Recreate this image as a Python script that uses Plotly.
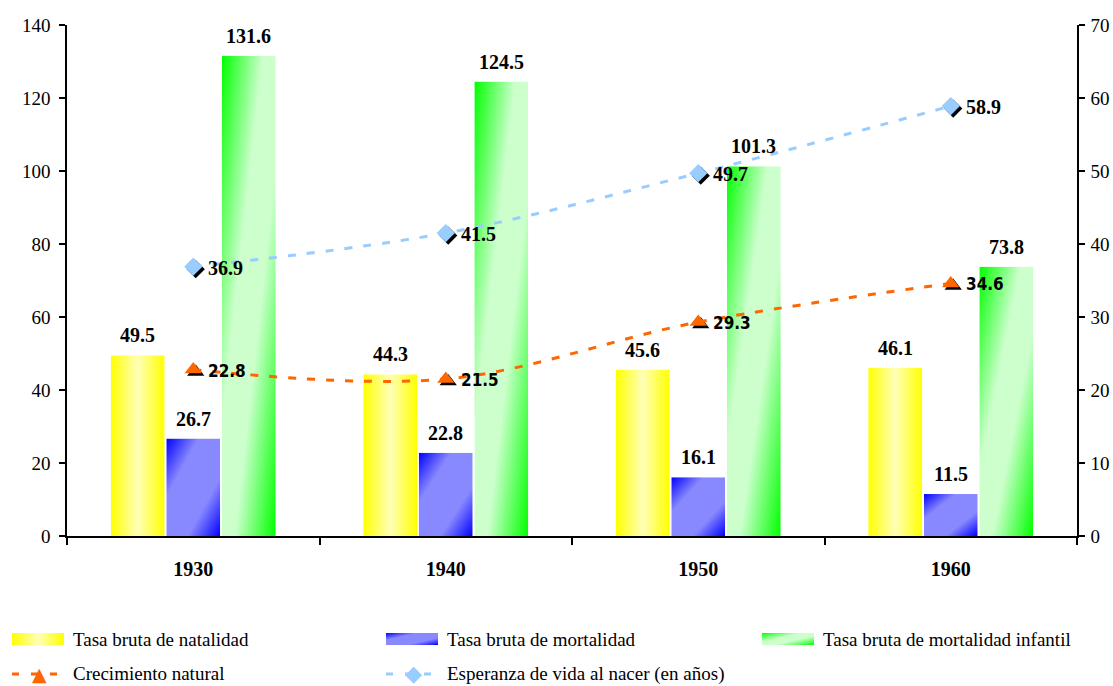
import base64
import plotly.graph_objects as go

# ---- data -------------------------------------------------------------
years = ["1930", "1940", "1950", "1960"]
natalidad = [49.5, 44.3, 45.6, 46.1]
mortalidad = [26.7, 22.8, 16.1, 11.5]
mortalidad_infantil = [131.6, 124.5, 101.3, 73.8]
crecimiento = [22.8, 21.5, 29.3, 34.6]
esperanza = [36.9, 41.5, 49.7, 58.9]

bar_names = ["Tasa bruta de natalidad", "Tasa bruta de mortalidad",
             "Tasa bruta de mortalidad infantil"]
line_names = ["Crecimiento natural", "Esperanza de vida al nacer (en años)"]

left_ticks = [0, 20, 40, 60, 80, 100, 120, 140]
right_ticks = [0, 10, 20, 30, 40, 50, 60, 70]

# ---- styling ----------------------------------------------------------
SERIF = "Liberation Serif, Times New Roman, serif"
NARROW = "Liberation Sans Narrow, Arial Narrow, DejaVu Sans Condensed, sans-serif"
ORANGE = "#FF6600"
SKY = "#99CCFF"

W, H = 1113, 686
ML, MR, MT, MB = 67, 36, 25, 150
PW, PH = W - ML - MR, H - MT - MB

BARGAP, BARGROUPGAP = 0.34, 0.03

# gradient fills for the bars (stops, diagonal?)
GRADIENTS = [
    ([(0, "#FFFF00"), (0.5, "#FFFFB8"), (1, "#FFFF00")], False),
    ([(0, "#0000FF"), (0.3, "#8888FF"), (0.7, "#8888FF"), (1, "#0000FF")], True),
    ([(0, "#00FF00"), (0.38, "#CCFFCC"), (0.62, "#CCFFCC"), (1, "#00FF00")], True),
]


def gradient_uri(stops, diagonal):
    x2, y2 = ("1", "1") if diagonal else ("1", "0")
    st = "".join(f'<stop offset="{o}" stop-color="{c}"/>' for o, c in stops)
    svg = ('<svg xmlns="http://www.w3.org/2000/svg" width="100" height="100" '
           'viewBox="0 0 100 100" preserveAspectRatio="none"><defs>'
           f'<linearGradient id="g" x1="0" y1="0" x2="{x2}" y2="{y2}">{st}'
           '</linearGradient></defs><rect width="100" height="100" fill="url(#g)"/></svg>')
    return "data:image/svg+xml;base64," + base64.b64encode(svg.encode()).decode()


def px_x(p):
    return (p - ML) / PW


def px_y(p):
    return (H - MB - p) / PH


xpos = list(range(len(years)))
series = [natalidad, mortalidad, mortalidad_infantil]

fig = go.Figure()
images = []
annotations = []
shapes = []

# bars: the fill itself comes from gradient images laid under the traces
n = len(series)
group_w = 1 - BARGAP
slot = group_w / n
bar_w = slot * (1 - BARGROUPGAP)
for i, (name, vals) in enumerate(zip(bar_names, series)):
    fig.add_trace(go.Bar(
        x=xpos, y=vals, name=name,
        marker=dict(color="rgba(0,0,0,0)", line=dict(width=0)),
        showlegend=False, hovertemplate=name + ": %{y}<extra></extra>",
    ))
    uri = gradient_uri(*GRADIENTS[i])
    for xc, v in zip(xpos, vals):
        center = xc - group_w / 2 + slot * (i + 0.5)
        images.append(dict(
            source=uri, xref="x", yref="y", x=center - bar_w / 2, y=v,
            sizex=bar_w, sizey=v, xanchor="left", yanchor="top",
            sizing="stretch", layer="below",
        ))
        annotations.append(dict(
            text=f"<b>{v:.1f}</b>", xref="x", yref="y", x=center, y=v,
            xanchor="center", yanchor="bottom", yshift=7, showarrow=False,
            font=dict(family=SERIF, size=20, color="black"),
        ))

# line series on the right axis, with a dark drop shadow under each marker
SHADOW_DX = 2.5 / PW * 4      # ~2.5 px in category units
SHADOW_DY = 2.5 / PH * 70     # ~2.5 px in right-axis units

line_specs = [
    (crecimiento, line_names[0], ORANGE, "triangle-up", 15,
     dict(family=NARROW, size=17, color="black")),
    (esperanza, line_names[1], SKY, "diamond", 14,
     dict(family=SERIF, size=20, color="black")),
]
for vals, name, color, symbol, size, tfont in line_specs:
    fig.add_trace(go.Scatter(
        x=[x + SHADOW_DX for x in xpos], y=[v - SHADOW_DY for v in vals],
        yaxis="y2", mode="markers", showlegend=False, hoverinfo="skip",
        marker=dict(symbol=symbol, size=size, color="black"),
    ))
    fig.add_trace(go.Scatter(
        x=xpos, y=vals, yaxis="y2", name=name, mode="lines+markers",
        line=dict(color=color, width=3, dash="8px,11px", shape="spline", smoothing=1),
        marker=dict(symbol=symbol, size=size, color=color),
        cliponaxis=False, showlegend=False,
        hovertemplate=name + ": %{y}<extra></extra>",
    ))
    for xc, v in zip(xpos, vals):
        annotations.append(dict(
            text=f"<b>{v:.1f}</b>", xref="x", yref="y2", x=xc, y=v,
            xanchor="left", yanchor="middle", xshift=13, yshift=-1,
            showarrow=False, font=tfont,
        ))

# ---- custom legend ------------------------------------------------------
legend_cols = [12, 386, 762]
row1, row2 = 639, 674
for i, name in enumerate(bar_names):
    x0 = legend_cols[i]
    images.append(dict(
        source=gradient_uri(*GRADIENTS[i]), xref="paper", yref="paper",
        x=px_x(x0), y=px_y(row1 - 6), sizex=52 / PW, sizey=12 / PH,
        xanchor="left", yanchor="top", sizing="stretch", layer="above",
    ))
    annotations.append(dict(
        text=name, xref="paper", yref="paper", x=px_x(x0 + 59), y=px_y(row1),
        xanchor="left", yanchor="middle", showarrow=False,
        font=dict(family=SERIF, size=19, color="black"),
    ))

for i, (name, color, glyph, gsize) in enumerate(
        [(line_names[0], ORANGE, "▲", 19), (line_names[1], SKY, "◆", 22)]):
    x0 = legend_cols[i]
    shapes.append(dict(
        type="line", xref="paper", yref="paper",
        x0=px_x(x0), x1=px_x(x0 + 46), y0=px_y(row2), y1=px_y(row2),
        line=dict(color=color, width=3, dash="7px,12px"),
    ))
    annotations.append(dict(
        text=glyph, xref="paper", yref="paper", x=px_x(x0 + 27), y=px_y(row2),
        xanchor="center", yanchor="middle", showarrow=False,
        font=dict(family="DejaVu Sans", size=gsize, color=color),
    ))
    annotations.append(dict(
        text=name, xref="paper", yref="paper", x=px_x(x0 + 59), y=px_y(row2),
        xanchor="left", yanchor="middle", showarrow=False,
        font=dict(family=SERIF, size=19, color="black"),
    ))

axis_common = dict(
    showgrid=False, zeroline=False, showline=True, linecolor="black", linewidth=1.5,
    ticks="outside", ticklen=6, tickcolor="black", tickwidth=1.5, automargin=False,
    tickfont=dict(family=SERIF, size=19, color="black"),
)

fig.update_layout(
    width=W, height=H, autosize=False,
    margin=dict(l=ML, r=MR, t=MT, b=MB),
    paper_bgcolor="white", plot_bgcolor="white",
    barmode="group", bargap=BARGAP, bargroupgap=BARGROUPGAP,
    showlegend=False,
    xaxis=dict(
        range=[-0.5, len(years) - 0.5], tickvals=xpos, ticktext=years,
        showgrid=False, zeroline=False, showline=True, linecolor="black", linewidth=1.5,
        ticks="", ticklabelstandoff=14, automargin=False,
        tickfont=dict(family=SERIF, size=20, color="black", weight="bold"),
        minor=dict(tickmode="linear", tick0=0.5, dtick=1, ticks="outside",
                   ticklen=7, tickcolor="black", tickwidth=1.5, showgrid=False),
    ),
    yaxis=dict(range=[0, 140], tickvals=left_ticks, ticklabelstandoff=5, **axis_common),
    yaxis2=dict(range=[0, 70], tickvals=right_ticks, overlaying="y", side="right",
                ticklabelstandoff=2, **axis_common),
    images=images, annotations=annotations, shapes=shapes,
)

fig.write_html("out.html")
